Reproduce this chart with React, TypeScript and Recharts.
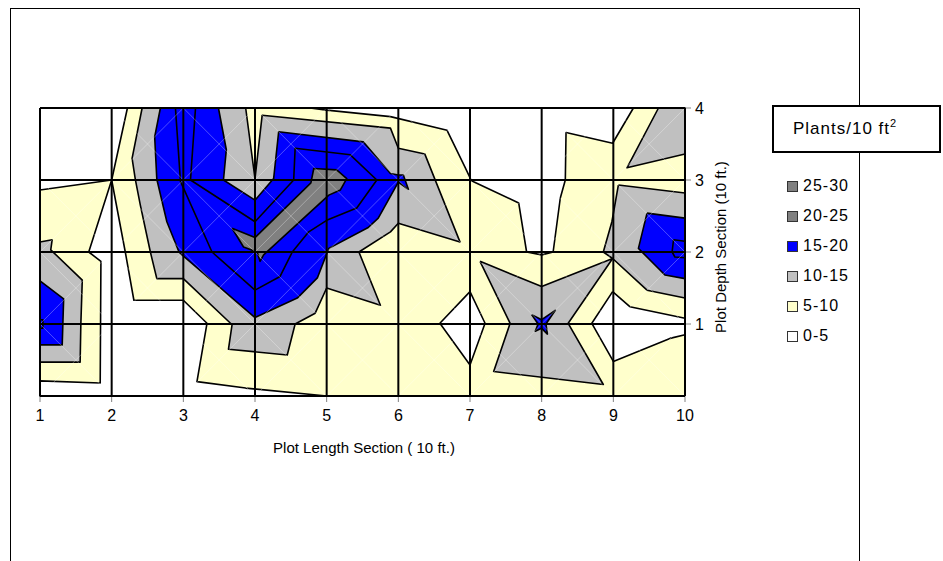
import React from 'react';
import { ScatterChart, Scatter, XAxis, YAxis, ReferenceArea } from 'recharts';

type Pt = [number, number];

const xTicks = [1, 2, 3, 4, 5, 6, 7, 8, 9, 10];
const yTicks = [1, 2, 3, 4];
const yGrid = [0, 1, 2, 3, 4];

const WHITE = '#FFFFFF';
const YELLOW = '#FFFFCC';
const GRAY = '#C0C0C0';
const BLUE = '#0000FF';
const DARK = '#808080';

// 0-5 zones
const white1: Pt[] = [[1, 4], [2.22, 4], [2, 3], [1, 2.86]];
const white2: Pt[] = [[2, 3], [2.19, 2.0], [2.31, 1.33], [3.0, 1.33], [3.33, 1.01], [3.19, 0.2], [3.87, 0.11], [5, 0], [1, 0], [1, 0.21], [1.84, 0.18], [1.85, 1.87], [1.68, 2.0]];
const white3: Pt[] = [[4.77, 4], [5.0, 3.97], [5.89, 3.88], [6.68, 3.69], [6.93, 3.18], [7.02, 2.99], [7.68, 2.68], [7.79, 2.0], [8.0, 1.96], [8.16, 2.0], [8.26, 2.75], [8.33, 3.0], [8.34, 3.66], [8.99, 3.51], [9.28, 4]];
const white4: Pt[] = [[8.99, 1.45], [9.23, 1.24], [10, 1.08], [10, 0.85], [9.79, 0.8], [9.0, 0.48], [8.7, 1.01]];
const white5: Pt[] = [[7, 1.45], [7.21, 1.01], [7, 0.43], [6.58, 1.01]];

// 10-15 zones
const gray1: Pt[] = [[2.425, 4], [3.87, 4], [4.0, 3.02], [4.1, 3.9], [5.89, 3.72], [6.0, 3.44], [6.37, 3.36], [6.86, 2.14], [6.0, 2.4], [5.89, 2.28], [5.45, 2.0], [5.75, 1.26], [5.0, 1.5], [4.84, 1.15], [4.56, 1.0], [4.45, 0.57], [3.63, 0.65], [3.68, 0.99], [3.0, 1.63], [2.63, 1.63], [2.54, 2.0], [2.4, 2.65], [2.33, 3.01], [2.285, 3.3]];
const gray2: Pt[] = [[1, 2.14], [1.17, 2.17], [1.15, 2.03], [1.59, 1.61], [1.57, 1.0], [1.56, 0.47], [1, 0.47]];
const gray3: Pt[] = [[7.14, 1.87], [8.0, 1.52], [8.99, 1.91], [8.37, 1.01], [8.86, 0.16], [7.33, 0.34], [7.56, 1.01]];
const gray4: Pt[] = [[9.07, 2.93], [10, 2.82], [10, 1.36], [9.47, 1.47], [8.99, 1.91], [8.86, 2.0], [8.98, 2.42]];
const gray5: Pt[] = [[9.63, 4], [10, 4], [10, 3.36], [9.19, 3.17]];

// 15-20 zones
const blue1: Pt[] = [[2.68, 4], [3.49, 4], [3.6, 3.42], [3.56, 3.0], [4.0, 2.72], [4.26, 3.02], [4.33, 3.67], [5.51, 3.53], [5.89, 3.09], [6.0, 3.07], [6.07, 3.07], [6.14, 2.87], [6.0, 2.97], [5.72, 2.47], [5.58, 2.34], [5.03, 2.05], [4.87, 1.64], [4.59, 1.36], [4.0, 1.09], [2.97, 1.97], [2.94, 2.0], [2.77, 2.42], [2.63, 3.01], [2.6, 3.6]];
const blue2: Pt[] = [[1, 1.6], [1.33, 1.35], [1.31, 0.71], [1, 0.71]];
const blue2Core: Pt[] = [[1, 1.06], [1.04, 1.06], [1.04, 0.94], [1, 0.94]];
const blue3: Pt[] = [[7.86, 1.13], [8.0, 1.06], [8.19, 1.19], [8.06, 1.0], [8.08, 0.86], [8.0, 0.94], [7.91, 0.9], [7.95, 1.0]];
const blue4: Pt[] = [[9.47, 2.54], [10, 2.47], [10, 1.63], [9.72, 1.68], [9.35, 2.05]];
const blue4Core: Pt[] = [[9.84, 2.17], [10, 2.15], [10, 1.92], [9.86, 1.93], [9.82, 2.0]];
const inner1: Pt[] = [[2.89, 4], [3.17, 4], [3.1, 3.0], [4.0, 2.42], [4.54, 3.0], [4.56, 3.44], [5.33, 3.35], [5.7, 3.0], [5.42, 2.61], [5.0, 2.44], [4.75, 2.28], [4.52, 2.0], [4.35, 1.66], [4.0, 1.47], [3.4, 2.0], [2.96, 2.98]];

// 25-30 zone
const dark1: Pt[] = [[3.68, 2.33], [4.0, 2.2], [4.78, 2.96], [4.82, 3.16], [5.14, 3.14], [5.28, 3.02], [5.19, 2.86], [5.03, 2.79], [4.12, 1.96], [4.07, 1.87], [4.03, 2.0], [3.84, 2.07]];

const zones: { pts: Pt[]; fill: string }[] = [
  { pts: white1, fill: WHITE },
  { pts: white2, fill: WHITE },
  { pts: white3, fill: WHITE },
  { pts: white4, fill: WHITE },
  { pts: white5, fill: WHITE },
  { pts: gray1, fill: GRAY },
  { pts: gray2, fill: GRAY },
  { pts: gray3, fill: GRAY },
  { pts: gray4, fill: GRAY },
  { pts: gray5, fill: GRAY },
  { pts: blue1, fill: BLUE },
  { pts: blue2, fill: BLUE },
  { pts: blue2Core, fill: BLUE },
  { pts: blue3, fill: BLUE },
  { pts: blue4, fill: BLUE },
  { pts: blue4Core, fill: BLUE },
  { pts: inner1, fill: BLUE },
  { pts: dark1, fill: DARK },
];

const legendItems = [
  { label: '25-30', color: DARK },
  { label: '20-25', color: DARK },
  { label: '15-20', color: BLUE },
  { label: '10-15', color: GRAY },
  { label: '5-10', color: YELLOW },
  { label: '0-5', color: WHITE },
];

const closed = (pts: Pt[]) => [...pts, pts[0]].map(([x, y]) => ({ x, y }));
const noDot = () => <g />;

// faint cell diagonals (the surface mesh), built from the grid ticks
const x0 = xTicks[0];
const x1 = xTicks[xTicks.length - 1];
const y0 = yGrid[0];
const y1 = yGrid[yGrid.length - 1];
const diagonals: { x: number; y: number }[][] = [];
for (let c = x0 - y1; c <= x1 - y0; c++) {
  const pts = xTicks.filter((x) => x - c >= y0 && x - c <= y1).map((x) => ({ x, y: x - c }));
  if (pts.length > 1) diagonals.push(pts);
}
for (let c = x0 + y0; c <= x1 + y1; c++) {
  const pts = xTicks.filter((x) => c - x >= y0 && c - x <= y1).map((x) => ({ x, y: c - x }));
  if (pts.length > 1) diagonals.push(pts);
}

const FONT = '"Liberation Sans", Arial, sans-serif';

export default function App() {
  return (
    <div style={{ position: 'relative', width: 943, height: 561, overflow: 'hidden', background: '#fff', fontFamily: FONT }}>
      <style>{'body{margin:0}'}</style>
      <div style={{ position: 'absolute', left: 10, top: 8, width: 848, height: 600, border: '1px solid #000' }} />
      <div style={{ position: 'absolute', left: 0, top: 0 }}>
        <ScatterChart width={943} height={561} margin={{ top: 108, left: 40, right: 228, bottom: 135 }}>
          <XAxis
            type="number"
            dataKey="x"
            domain={[1, 10]}
            ticks={xTicks}
            interval={0}
            height={30}
            tickSize={6}
            tickMargin={8}
            axisLine={{ stroke: '#000' }}
            tickLine={{ stroke: '#808080' }}
            tick={{ fill: '#000', fontSize: 16, fontFamily: FONT }}
          />
          <YAxis
            type="number"
            dataKey="y"
            orientation="right"
            domain={[0, 4]}
            ticks={yTicks}
            interval={0}
            width={30}
            tickSize={6}
            tickMargin={4}
            axisLine={{ stroke: '#000' }}
            tickLine={{ stroke: '#808080' }}
            tick={{ fill: '#000', fontSize: 16, fontFamily: FONT }}
          />
          <ReferenceArea x1={1} x2={10} y1={0} y2={4} fill={YELLOW} fillOpacity={1} stroke="none" />
          {zones.map((z, i) => (
            <Scatter
              key={'z' + i}
              data={closed(z.pts)}
              fill={z.fill}
              line={{ fill: z.fill, stroke: '#000', strokeWidth: 1.6, strokeLinejoin: 'round' }}
              lineJointType="linear"
              shape={noDot}
              isAnimationActive={false}
            />
          ))}
          {diagonals.map((d, i) => (
            <Scatter
              key={'d' + i}
              data={d}
              fill="#fff"
              line={{ stroke: '#ffffff', strokeOpacity: 0.3, strokeWidth: 1, fill: 'none' }}
              shape={noDot}
              isAnimationActive={false}
            />
          ))}
          {xTicks.map((x) => (
            <Scatter
              key={'gx' + x}
              data={[{ x, y: y0 }, { x, y: y1 }]}
              fill="#000"
              line={{ stroke: '#000', strokeWidth: 2, fill: 'none' }}
              shape={noDot}
              isAnimationActive={false}
            />
          ))}
          {yGrid.map((y) => (
            <Scatter
              key={'gy' + y}
              data={[{ x: x0, y }, { x: x1, y }]}
              fill="#000"
              line={{ stroke: '#000', strokeWidth: 2, fill: 'none' }}
              shape={noDot}
              isAnimationActive={false}
            />
          ))}
        </ScatterChart>
      </div>
      <div style={{ position: 'absolute', left: 364, top: 447, transform: 'translate(-50%, -50%)', fontSize: 15, whiteSpace: 'nowrap' }}>
        Plot Length Section ( 10 ft.)
      </div>
      <div style={{ position: 'absolute', left: 720, top: 247, transform: 'translate(-50%, -50%) rotate(-90deg)', fontSize: 15, whiteSpace: 'nowrap' }}>
        Plot Depth Section (10 ft.)
      </div>
      <div style={{ position: 'absolute', left: 772, top: 105, width: 165, height: 44, border: '2px solid #000', background: '#fff' }}>
        <div style={{ position: 'absolute', left: 19, top: 10, fontSize: 17, letterSpacing: 1, whiteSpace: 'nowrap' }}>
          Plants/10 ft<sup style={{ fontSize: 11 }}>2</sup>
        </div>
      </div>
      {legendItems.map((it, i) => (
        <div key={it.label} style={{ position: 'absolute', left: 787, top: 178 + i * 30, height: 16, display: 'flex', alignItems: 'center', fontSize: 16, letterSpacing: 1 }}>
          <span style={{ display: 'inline-block', width: 9, height: 9, background: it.color, border: '1px solid #333', marginRight: 5 }} />
          {it.label}
        </div>
      ))}
    </div>
  );
}
